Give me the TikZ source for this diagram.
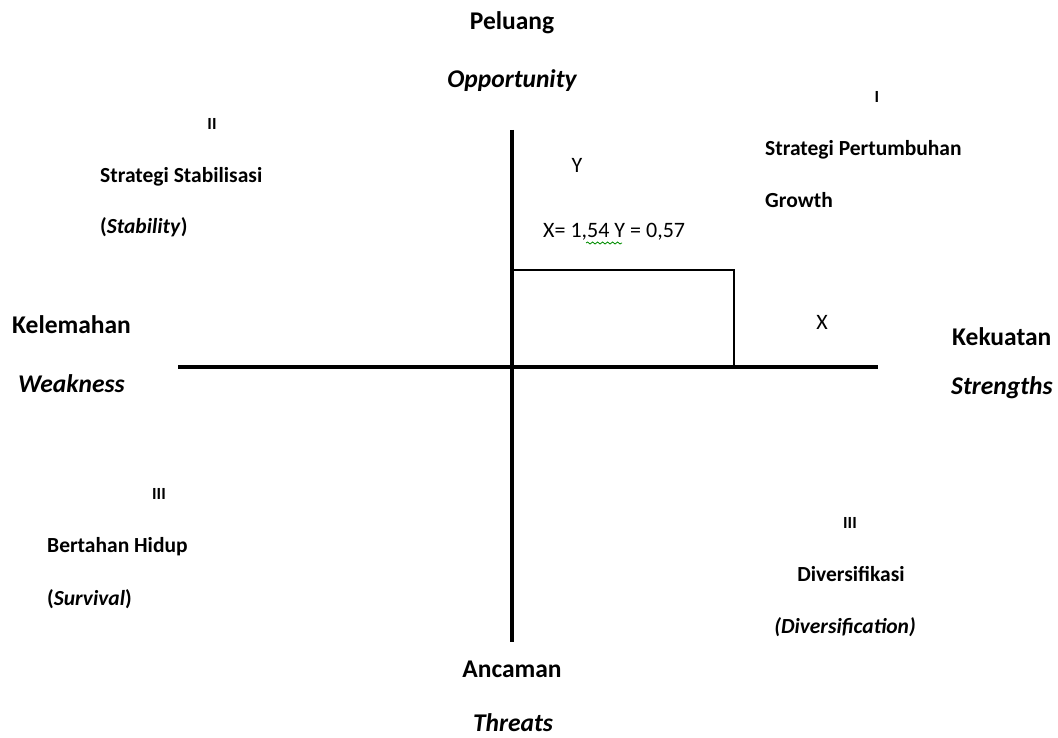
\documentclass[tikz,border=0pt]{standalone}
\usepackage{fontspec}
\setmainfont{Carlito}
\usetikzlibrary{decorations.pathmorphing}
\begin{document}
\begin{tikzpicture}[x=1pt,y=-1pt,
  big/.style={font=\fontsize{25.5}{30}\selectfont\bfseries, inner sep=0pt},
  bigit/.style={font=\fontsize{25.5}{30}\selectfont\bfseries\itshape, inner sep=0pt},
  small/.style={font=\fontsize{21.5}{25}\selectfont\bfseries, inner sep=0pt},
  num/.style={font=\fontsize{17}{20}\selectfont\bfseries, inner sep=0pt},
  val/.style={font=\fontsize{22}{26}\selectfont, inner sep=0pt},
  axisline/.style={line width=3.6pt},
  boxline/.style={line width=1.7pt},
  squiggle/.style={draw=green!55!black, line width=0.8pt,
    decorate, decoration={snake, amplitude=1pt, segment length=5pt}}]
\useasboundingbox (0,0) rectangle (1058,738);

% axes
\coordinate (top) at (512,130);
\coordinate (bottom) at (512,642);
\coordinate (left) at (178,367);
\coordinate (right) at (878,367);
\draw[axisline] (top) -- (bottom);
\draw[axisline] (left) -- (right);

% result box
\coordinate (boxtl) at (512,270);
\coordinate (boxtr) at (734,270);
\coordinate (boxbr) at (734,367);
\draw[boxline] (boxtl) -- (boxtr) -- (boxbr);

% axis labels
\node[big, anchor=base] (peluang) at (512,30) {Peluang};
\node[bigit, anchor=base] (opp) at (512,88) {Opportunity};
\node[big, anchor=base] (ancaman) at (512,677) {Ancaman};
\node[bigit, anchor=base] (threats) at (513,731) {Threats};
\node[big, anchor=base west] (kelemahan) at (12,333) {Kelemahan};
\node[bigit, anchor=base west] (weakness) at (18,392) {Weakness};
\node[big, anchor=base west] (kekuatan) at (952,345) {Kekuatan};
\node[bigit, anchor=base west] (strengths) at (951,394) {Strengths};

% values
\node[val, anchor=base] (ylab) at (577,173) {Y};
\node[val, anchor=base] (xlab) at (822,329) {X};
\node[val, anchor=base west] (xy) at (543,238) {X= 1,54 Y = 0,57};
\coordinate (sqa) at (586,243);
\coordinate (sqb) at (622,243);
\draw[squiggle] (sqa) -- (sqb);

% quadrant I
\node[num, anchor=base] (q1) at (877,103) {I};
\node[small, anchor=base west] (q1a) at (765,156) {Strategi Pertumbuhan};
\node[small, anchor=base west] (q1b) at (765,208) {Growth};

% quadrant II
\node[num, anchor=base] (q2) at (212,130) {II};
\node[small, anchor=base west] (q2a) at (100,183) {Strategi Stabilisasi};
\node[small, anchor=base west] (q2b) at (100,234) {(\textit{Stability})};

% quadrant III (left)
\node[num, anchor=base] (q3) at (159,499) {III};
\node[small, anchor=base west] (q3a) at (47,552) {Bertahan Hidup};
\node[small, anchor=base west] (q3b) at (47,605) {(\textit{Survival})};

% quadrant III (right)
\node[num, anchor=base] (q4) at (850,528) {III};
\node[small, anchor=base] (q4a) at (851,581) {Diversifikasi};
\node[small, anchor=base] (q4b) at (845,633) {\textit{(Diversification)}};
\end{tikzpicture}
\end{document}
